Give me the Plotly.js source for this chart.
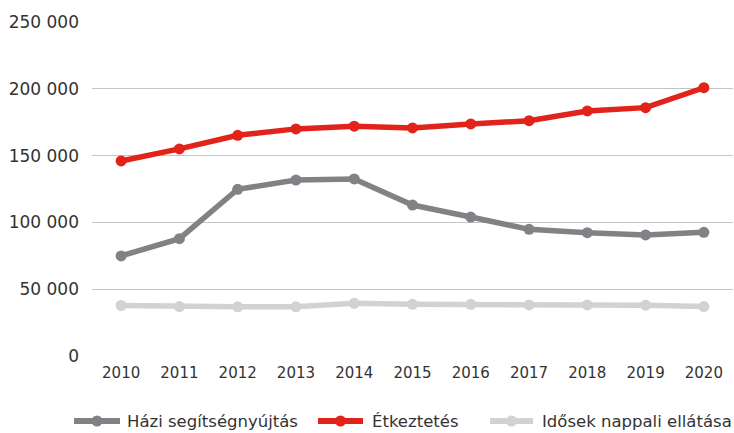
<!DOCTYPE html>
<html>
<head>
<meta charset="utf-8">
<script src="https://cdn.plot.ly/plotly-3.0.1.min.js"></script>
<style>html,body{margin:0;padding:0;background:#fff;}#chart{width:734px;height:433px;}</style>
</head>
<body>
<div id="chart"></div>
<script>
const years = ['2010','2011','2012','2013','2014','2015','2016','2017','2018','2019','2020'];
const hazi = [74900, 87800, 124800, 131700, 132500, 113000, 104000, 94800, 92300, 90600, 92600];
const etkeztetes = [146000, 155000, 165200, 170000, 172000, 170700, 173700, 176100, 183400, 185900, 200800];
const idosek = [37800, 37000, 36800, 36800, 39400, 38700, 38700, 38200, 38200, 38000, 37000];
const seriesNames = ['Házi segítségnyújtás', 'Étkeztetés', 'Idősek nappali ellátása'];
const colors = ['#808285', '#e2231a', '#d1d2d4'];

const font = "'DejaVu Sans', sans-serif";
const traces = [hazi, etkeztetes, idosek].map((v, i) => ({
  x: years, y: v, name: seriesNames[i], type: 'scatter', mode: 'lines+markers',
  line: {color: colors[i], width: 5.5}, marker: {color: colors[i], size: 11}
}));
const data = [traces[2], traces[0], traces[1]];

// custom legend layout (pixel positions converted to paper coords)
const M = {l: 92, r: 1, t: 22, b: 77}, W = 734, H = 433;
const pw = W - M.l - M.r, ph = H - M.t - M.b;
const fx = px => (px - M.l) / pw;
const fy = py => (H - M.b - py) / ph;
const legY = 421;
const legItems = [{x0: 74, x1: 120, tx: 125}, {x0: 318, x1: 363, tx: 370}, {x0: 490, x1: 533, tx: 540}];
const shapes = [], annotations = [];
legItems.forEach((it, i) => {
  shapes.push({type: 'line', xref: 'paper', yref: 'paper', x0: fx(it.x0), x1: fx(it.x1), y0: fy(legY), y1: fy(legY),
               line: {color: colors[i], width: 6}});
  const cx = (it.x0 + it.x1) / 2, r = 5.5;
  shapes.push({type: 'circle', xref: 'paper', yref: 'paper', x0: fx(cx - r), x1: fx(cx + r), y0: fy(legY + r), y1: fy(legY - r),
               fillcolor: colors[i], line: {width: 0}});
  annotations.push({xref: 'paper', yref: 'paper', x: fx(it.tx), y: fy(legY), xanchor: 'left', yanchor: 'middle',
                    text: seriesNames[i], showarrow: false, font: {size: 16.5, color: '#333'}});
});

const layout = {
  width: W, height: H,
  margin: M,
  paper_bgcolor: '#fff', plot_bgcolor: '#fff',
  separators: ', ',
  font: {family: font, color: '#333', size: 15},
  xaxis: {type: 'category', range: [-0.5, 10.5], showgrid: false, zeroline: false, showline: false,
          ticks: '', tickfont: {size: 15, color: '#333'}, ticklabelstandoff: 6},
  yaxis: {range: [0, 250000], tickvals: [0, 50000, 100000, 150000, 200000, 250000], tickformat: ',d',
          showgrid: true, gridcolor: '#c4c4c4', gridwidth: 1.3, zeroline: false, showline: false, ticks: '',
          tickfont: {size: 17, color: '#333'}, ticklabelstandoff: 12},
  showlegend: false,
  shapes: shapes,
  annotations: annotations
};
Plotly.newPlot('chart', data, layout, {displayModeBar: false, staticPlot: true});
</script>
</body>
</html>
